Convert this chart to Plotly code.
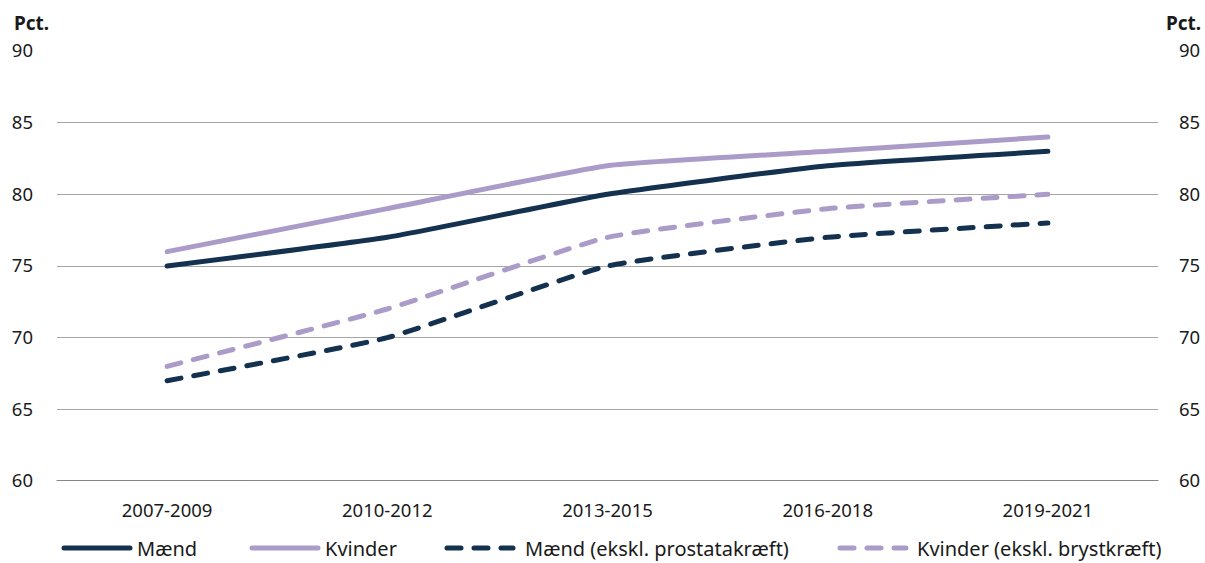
import plotly.graph_objects as go

# ── Data ──────────────────────────────────────────────────────────────────────
periods = ["2007-2009", "2010-2012", "2013-2015", "2016-2018", "2019-2021"]
maend = [75, 77, 80, 82, 83]
kvinder = [76, 79, 82, 83, 84]
maend_ekskl = [67, 70, 75, 77, 78]
kvinder_ekskl = [68, 72, 77, 79, 80]

NAVY = "#14314f"
LAVENDER = "#ab9bc8"
TEXT = "#1a1a1a"
FONT = "Noto Sans"
DASH = "14px,13px"

W, H = 1205, 563
PLOT_W, PLOT_H = 1101, 430          # plot area in px (57..1158, 51..481)


def px_x(px):
    """pixel x -> paper coordinate"""
    return (px - 57) / PLOT_W


def px_y(py):
    """pixel y -> paper coordinate"""
    return (481 - py) / PLOT_H


series = [
    ("Mænd", maend, NAVY, "solid"),
    ("Kvinder", kvinder, LAVENDER, "solid"),
    ("Mænd (ekskl. prostatakræft)", maend_ekskl, NAVY, DASH),
    ("Kvinder (ekskl. brystkræft)", kvinder_ekskl, LAVENDER, DASH),
]

fig = go.Figure()
for name, vals, color, dash in series:
    fig.add_trace(go.Scatter(
        x=periods, y=vals, name=name, mode="lines", showlegend=False,
        line=dict(color=color, width=5, dash=dash, shape="spline", smoothing=0.4),
    ))

# invisible trace so the right-hand axis is drawn
fig.add_trace(go.Scatter(x=periods, y=maend, yaxis="y2", mode="lines",
                         line=dict(width=0), opacity=0, showlegend=False,
                         hoverinfo="skip"))

axis_font = dict(family=FONT, size=18.5, color=TEXT)

fig.update_layout(
    width=W, height=H,
    margin=dict(l=57, r=47, t=51, b=82, autoexpand=False),
    paper_bgcolor="white", plot_bgcolor="white",
    font=dict(family=FONT, color=TEXT),
    xaxis=dict(type="category", range=[-0.5, 4.5], showgrid=False,
               tickfont=axis_font, ticks="", showline=False, zeroline=False,
               ticklabelstandoff=16),
    yaxis=dict(range=[60, 90], dtick=5, showgrid=True, gridcolor="#a6a6a6",
               gridwidth=1, tickfont=axis_font, ticks="", zeroline=False,
               showline=False, ticklabelstandoff=23),
    yaxis2=dict(range=[60, 90], dtick=5, overlaying="y", side="right",
                showgrid=False, tickfont=axis_font, ticks="", zeroline=False,
                showline=False, ticklabelstandoff=20),
    showlegend=False,
)

# darker baseline at 60
fig.add_shape(type="line", xref="paper", yref="y", x0=0, x1=1, y0=60, y1=60,
              line=dict(color="#5f5f5f", width=1.3))

# "Pct." labels above both value axes
fig.add_annotation(text="<b>Pct.</b>", xref="paper", yref="paper",
                   x=px_x(12), y=px_y(23), xanchor="left", yanchor="middle",
                   showarrow=False, font=dict(family=FONT, size=19, color=TEXT))
fig.add_annotation(text="<b>Pct.</b>", xref="paper", yref="paper",
                   x=px_x(1203), y=px_y(23), xanchor="right", yanchor="middle",
                   showarrow=False, font=dict(family=FONT, size=19, color=TEXT))

# ── Legend drawn by hand (long line samples like the original) ────────────────
legend_pos = [(62, 137), (250, 325), (445, 525), (838, 917)]
ly = px_y(548)
for (name, _, color, dash), (sx, tx) in zip(series, legend_pos):
    fig.add_shape(type="line", xref="paper", yref="paper",
                  x0=px_x(sx + 2), x1=px_x(sx + 68), y0=ly, y1=ly,
                  line=dict(color=color, width=5, dash=dash))
    fig.add_annotation(text=name, xref="paper", yref="paper",
                       x=px_x(tx - 2), y=ly, xanchor="left", yanchor="middle",
                       showarrow=False, font=dict(family=FONT, size=20, color=TEXT))

# no page margin, round line caps like the original
post = """
document.body.style.margin = '0px';
document.body.style.overflow = 'hidden';
document.querySelectorAll('path.js-line, .shapelayer path').forEach(function (p) {
    p.style.strokeLinecap = 'round';
});
"""

fig.write_html("out.html", post_script=post, config={"displayModeBar": False})
